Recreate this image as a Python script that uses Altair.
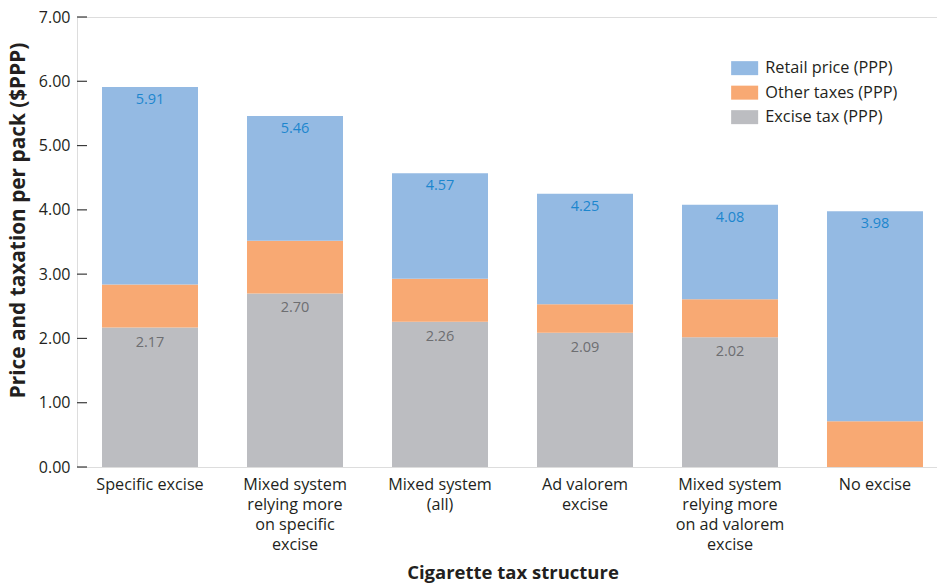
import altair as alt
import pandas as pd

# Cigarette tax structure categories (line breaks split the axis labels)
categories = [
    "Specific excise",
    "Mixed system\nrelying more\non specific\nexcise",
    "Mixed system\n(all)",
    "Ad valorem\nexcise",
    "Mixed system\nrelying more\non ad valorem\nexcise",
    "No excise",
]
total_price = [5.91, 5.46, 4.57, 4.25, 4.08, 3.98]   # total price per pack (PPP)
excise_tax = [2.17, 2.70, 2.26, 2.09, 2.02, 0.00]    # excise component (PPP)
other_taxes = [0.67, 0.82, 0.67, 0.44, 0.59, 0.71]   # other taxes (PPP)
y_ticks = [0, 1, 2, 3, 4, 5, 6, 7]

series = ["Retail price (PPP)", "Other taxes (PPP)", "Excise tax (PPP)"]
colors = ["#94BAE3", "#F8A973", "#BCBDC1"]

rows = []
labels = []
for cat, tot, exc, oth in zip(categories, total_price, excise_tax, other_taxes):
    retail = round(tot - exc - oth, 2)
    rows.append({"category": cat, "series": series[2], "value": exc, "stack": 0})
    rows.append({"category": cat, "series": series[1], "value": oth, "stack": 1})
    rows.append({"category": cat, "series": series[0], "value": retail, "stack": 2})
    labels.append({"category": cat, "total": tot, "excise": exc})

df = pd.DataFrame(rows)
lab = pd.DataFrame(labels)
ticks = pd.DataFrame({"tick": y_ticks})

FONT = "Open Sans"
INK = "#231F20"

x_enc = alt.X(
    "category:N",
    sort=categories,
    scale=alt.Scale(paddingInner=0.338, paddingOuter=0.1725),
    axis=alt.Axis(
        title="Cigarette tax structure",
        labelAngle=0,
        labelExpr="split(datum.label, '\\n')",
        labelFont=FONT,
        labelFontSize=16.2,
        labelLineHeight=20.3,
        labelColor=INK,
        labelPadding=9,
        ticks=False,
        domain=False,
        titleFont=FONT,
        titleFontSize=18.5,
        titleFontWeight="bold",
        titleColor=INK,
        titleBaseline="middle",
        titleY=105,
    ),
)

bars = alt.Chart(df).mark_bar().encode(
    x=x_enc,
    y=alt.Y(
        "value:Q",
        stack="zero",
        scale=alt.Scale(domain=[0, 7], nice=False),
        axis=alt.Axis(
            title="Price and taxation per pack ($PPP)",
            values=y_ticks,
            format=".2f",
            grid=False,
            ticks=False,
            domain=False,
            labelFont=FONT,
            labelFontSize=16,
            labelColor=INK,
            labelPadding=7,
            titleFont=FONT,
            titleFontSize=20.8,
            titleFontWeight="bold",
            titleColor=INK,
            titleAlign="center",
            titleBaseline="middle",
            titleX=-59,
            titleY=203,
        ),
    ),
    color=alt.Color(
        "series:N",
        scale=alt.Scale(domain=series, range=colors),
        legend=alt.Legend(
            title=None,
            orient="none",
            legendX=659.5,
            legendY=43,
            symbolType="M-1.93,-1H1.93V1H-1.93Z",
            symbolSize=196,
            symbolStrokeWidth=0,
            symbolOpacity=1,
            labelFont=FONT,
            labelFontSize=16.3,
            labelColor=INK,
            labelOffset=12.5,
            rowPadding=7.5,
            padding=0,
        ),
    ),
    order=alt.Order("stack:Q", sort="ascending"),
)

# inward tick marks on the value axis
tick_marks = alt.Chart(ticks).mark_rule(color="#3a3a3a", strokeWidth=1.2).encode(
    y=alt.Y("tick:Q"),
    x=alt.value(0),
    x2=alt.value(10),
)

total_text = alt.Chart(lab).mark_text(
    font=FONT, fontSize=14.5, color="#1C86CE", baseline="middle", dy=13
).encode(
    x=alt.X("category:N", sort=categories),
    y=alt.Y("total:Q"),
    text=alt.Text("total:Q", format=".2f"),
)

excise_text = alt.Chart(lab).transform_filter("datum.excise > 0").mark_text(
    font=FONT, fontSize=14.5, color="#6D6E71", baseline="middle", dy=15
).encode(
    x=alt.X("category:N", sort=categories),
    y=alt.Y("excise:Q"),
    text=alt.Text("excise:Q", format=".2f"),
)

chart = (
    alt.layer(bars, tick_marks, total_text, excise_text)
    .properties(
        width=871,
        height=450,
        autosize=alt.AutoSizeParams(type="none"),
        padding={"left": 77, "top": 17, "right": -11, "bottom": 116},
    )
    .configure_view(stroke="#3a3a3a", strokeWidth=1.4)
    .configure(background="white")
)

chart.save("out.html", embed_options={"renderer": "svg", "actions": False})
